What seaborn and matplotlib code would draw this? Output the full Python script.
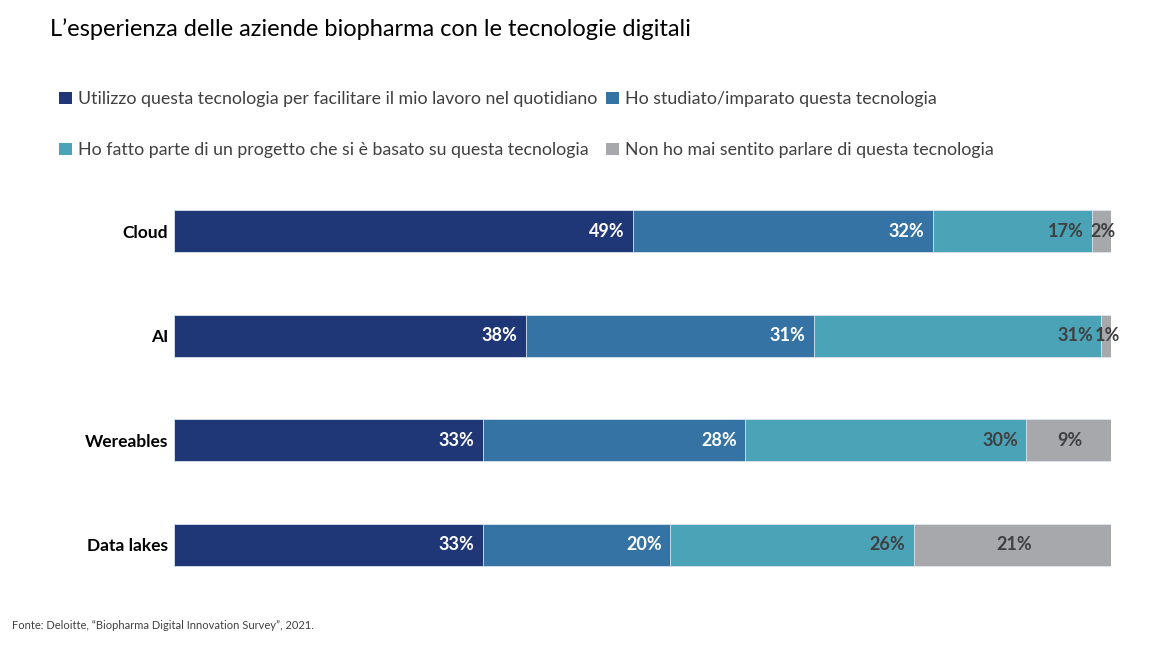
import pandas as pd
import numpy as np
import matplotlib.pyplot as plt
import seaborn as sns
from matplotlib.patches import Patch

tecnologie = ['Cloud', 'AI', 'Wereables', 'Data lakes']
utilizzo = [49, 38, 33, 33]
studiato = [32, 31, 28, 20]
progetto = [17, 31, 30, 26]
mai_sentito = [2, 1, 9, 21]

serie = ['Utilizzo questa tecnologia per facilitare il mio lavoro nel quotidiano',
         'Ho studiato/imparato questa tecnologia',
         'Ho fatto parte di un progetto che si è basato su questa tecnologia',
         'Non ho mai sentito parlare di questa tecnologia']
colori = ['#1F3677', '#3573A5', '#4AA3B7', '#A7A8AC']
col_testo = ['white', 'white', '#404040', '#404040']

df = pd.DataFrame({serie[0]: utilizzo, serie[1]: studiato,
                   serie[2]: progetto, serie[3]: mai_sentito}, index=tecnologie)
# le barre sono tutte lunghe 100%
quote = df.div(df.sum(axis=1), axis=0) * 100
cumulato = quote.cumsum(axis=1)

sns.set_style('white')
plt.rcParams['font.family'] = ['Lato', 'DejaVu Sans']

fig = plt.figure(figsize=(11.74, 6.56), dpi=100)
ax = fig.add_axes([0.148, 0.0899, 0.798, 0.637])

# barre sovrapposte: dalla somma totale alla prima serie
for i in range(3, -1, -1):
    sns.barplot(x=cumulato.iloc[:, i].values, y=tecnologie, orient='h',
                color=colori[i], width=0.4, saturation=1, linewidth=0.6,
                edgecolor='#dfe6ee', ax=ax)

for r, tec in enumerate(tecnologie):
    for i in range(4):
        fine = cumulato.iloc[r, i]
        inizio = fine - quote.iloc[r, i]
        testo = f'{df.iloc[r, i]}%'
        if i < 3:
            ax.text(fine - 0.9, r, testo, ha='right', va='center', color=col_testo[i],
                    fontsize=13, fontweight='bold')
        else:
            ax.text((inizio + fine) / 2 + 0.2, r, testo, ha='center', va='center',
                    color=col_testo[i], fontsize=13, fontweight='bold')

ax.set_xlim(0, 100)
ax.set_ylim(3.5, -0.5)
ax.set_xlabel('')
ax.set_ylabel('')
ax.set_xticks([])
ax.tick_params(axis='y', length=0, pad=4)
for lab in ax.get_yticklabels():
    lab.set_fontweight('bold')
    lab.set_fontsize(12.5)
    lab.set_color('black')
sns.despine(ax=ax, left=True, bottom=True)

fig.text(0.043, 0.955, 'L\u2019esperienza delle aziende biopharma con le tecnologie digitali',
         fontsize=17, va='center', ha='left', color='black')

handles = [Patch(facecolor=c, edgecolor='none') for c in colori]
ordine = [0, 2, 1, 3]
fig.legend([handles[k] for k in ordine], [serie[k] for k in ordine], ncol=2,
           loc='upper left', bbox_to_anchor=(0.037, 0.885), frameon=False,
           fontsize=12.8, handlelength=0.7, handleheight=0.7, handletextpad=0.35,
           labelspacing=1.95, columnspacing=0.5, labelcolor='#404040')

fig.text(0.01, 0.047, 'Fonte: Deloitte, \u201cBiopharma Digital Innovation Survey\u201d, 2021.',
         fontsize=8, color='#404040', va='center', ha='left')

fig.savefig('out.png', dpi=100)
